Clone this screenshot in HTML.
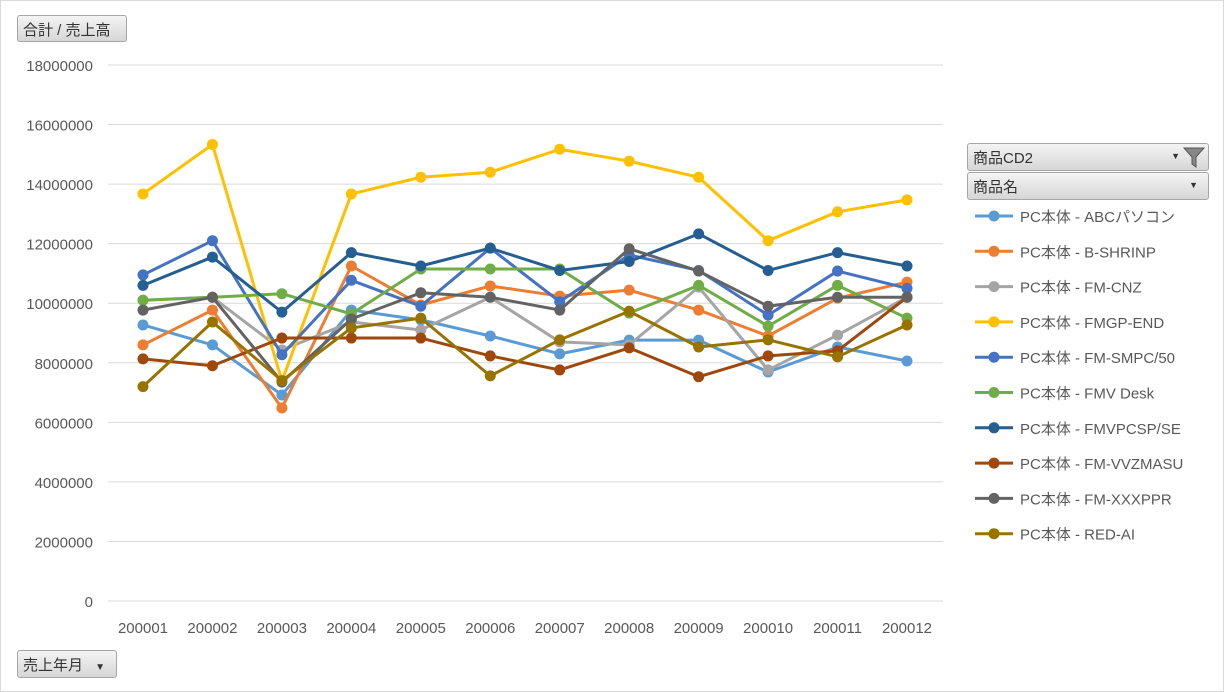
<!DOCTYPE html>
<html><head><meta charset="utf-8"><style>
body{margin:0;width:1224px;height:692px;background:#fff;font-family:"Liberation Sans","Noto Sans CJK JP",sans-serif;overflow:hidden}
.frame{position:absolute;left:0;top:0;width:1222px;height:690px;border:1px solid #d9d9d9}
.btn{position:absolute;background:linear-gradient(#f4f4f4,#d6d6d6);border:1px solid #a6a6a6;border-radius:3px;font-size:15px;color:#333;box-sizing:border-box;padding:3px 5px}
</style></head><body>
<div class="frame"></div>
<div class="btn" style="left:17px;top:15px;width:110px;height:27px">合計 / 売上高</div>
<div class="btn" style="left:17px;top:650px;width:100px;height:28px">売上年月 <span style="font-size:10px;margin-left:8px">▼</span></div>
<div class="btn" style="left:967px;top:143px;width:242px;height:28px">商品CD2<span style="position:absolute;right:28px;top:7px;font-size:9px">▼</span><svg style="position:absolute;right:2px;top:1px" width="24" height="24"><path d="M2 3 H22 L14 12 V22 L10 19 V12 Z" fill="#888" stroke="#555"/></svg></div>
<div class="btn" style="left:967px;top:172px;width:242px;height:28px">商品名<span style="position:absolute;right:10px;top:7px;font-size:9px">▼</span></div>
<svg id="chart" width="1224" height="692" style="position:absolute;left:0;top:0"></svg>
<script>
const categories=["200001","200002","200003","200004","200005","200006","200007","200008","200009","200010","200011","200012"];
const yTicks=[0,2000000,4000000,6000000,8000000,10000000,12000000,14000000,16000000,18000000];
const seriesNames=["PC本体 - ABCパソコン","PC本体 - B-SHRINP","PC本体 - FM-CNZ","PC本体 - FMGP-END","PC本体 - FM-SMPC/50","PC本体 - FMV Desk","PC本体 - FMVPCSP/SE","PC本体 - FM-VVZMASU","PC本体 - FM-XXXPPR","PC本体 - RED-AI"];
const seriesColors=["#5B9BD5","#ED7D31","#A5A5A5","#FFC000","#4472C4","#70AD47","#255E91","#9E480E","#636363","#997300"];
const sABC=[9.27,8.6,6.92,9.77,9.44,8.9,8.3,8.76,8.76,7.69,8.53,8.06];
const sBSH=[8.6,9.77,6.48,11.25,9.94,10.58,10.24,10.44,9.77,8.9,10.17,10.71];
const sCNZ=[10.1,10.2,8.43,9.37,9.1,10.2,8.7,8.6,10.54,7.76,8.93,10.2];
const sFMGP=[13.67,15.33,7.39,13.67,14.23,14.4,15.17,14.77,14.23,12.1,13.07,13.47];
const sSMPC=[10.95,12.1,8.27,10.77,9.9,11.85,10.05,11.62,11.1,9.6,11.08,10.5];
const sFMV=[10.1,10.2,10.32,9.64,11.15,11.15,11.15,9.67,10.6,9.23,10.6,9.5];
const sPCSP=[10.6,11.55,9.7,11.7,11.25,11.85,11.1,11.4,12.33,11.1,11.7,11.25];
const sVVZ=[8.13,7.9,8.83,8.83,8.83,8.23,7.76,8.5,7.53,8.23,8.4,10.2];
const sXXX=[9.77,10.2,7.35,9.47,10.35,10.2,9.77,11.83,11.08,9.9,10.2,10.2];
const sRED=[7.2,9.37,7.4,9.17,9.5,7.56,8.77,9.73,8.53,8.77,8.2,9.27];
const series=[sABC,sBSH,sCNZ,sFMGP,sSMPC,sFMV,sPCSP,sVVZ,sXXX,sRED];
const NS="http://www.w3.org/2000/svg",svg=document.getElementById('chart');
const x=i=>143+i*(907-143)/(categories.length-1);
const y=v=>601-v/18000000*536;
function mk(t,a){const e=document.createElementNS(NS,t);for(const k in a)e.setAttribute(k,a[k]);svg.appendChild(e);return e;}
yTicks.forEach(t=>{
 const g=mk('line',{x1:108,x2:943,y1:y(t),y2:y(t),stroke:'#d9d9d9','stroke-width':1});
 
 
 const l=mk('text',{x:93,y:y(t)+6,'text-anchor':'end','font-size':15,fill:'#595959'});l.textContent=t;
 
 
});
categories.forEach((c,i)=>{
 const l=mk('text',{x:x(i),y:633,'text-anchor':'middle','font-size':15,fill:'#595959'});l.textContent=c;
 
 
});
series.forEach((s,k)=>{
 const p=mk('polyline',{points:s.map((v,i)=>x(i)+','+y(v*1e6)).join(' '),fill:'none',stroke:seriesColors[k],'stroke-width':3,'stroke-linejoin':'round'});
 
 
 s.forEach((v,i)=>{const c=mk('circle',{cx:x(i),cy:y(v*1e6),r:5.5,fill:seriesColors[k]});
  
  });
 const ly=216+k*35.3;
 const ll=mk('line',{x1:975,x2:1013,y1:ly,y2:ly,stroke:seriesColors[k],'stroke-width':3});
 
 
 const lc=mk('circle',{cx:994,cy:ly,r:5.5,fill:seriesColors[k]});
 
 
 const lt=mk('text',{x:1020,y:ly+6,'font-size':15,fill:'#595959'});lt.textContent=seriesNames[k];
 
 
});
</script>
</body></html>
